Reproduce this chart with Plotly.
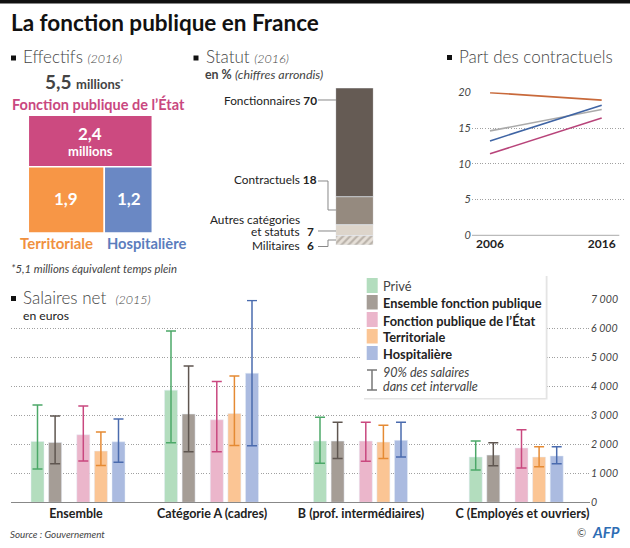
import plotly.graph_objects as go

W, H = 630, 548
FONT = "Lato"

# ---- data
effectifs_labels = ["Fonction publique", "État", "Autres", "Territoriale", "Hospitalière"]
effectifs_parents = ["", "Fonction publique", "Fonction publique", "Autres", "Autres"]
effectifs_values = [5.5, 2.4, 3.1, 1.9, 1.2]

statut_labels = ["Fonctionnaires", "Contractuels", "Autres catégories et statuts", "Militaires"]
statut_values = [70, 18, 7, 6]

years = [2006, 2016]
part_territoriale = [19.95, 18.9]
part_ensemble = [14.6, 17.6]
part_hospitaliere = [13.2, 18.2]
part_etat = [11.4, 16.4]

groups = ["Ensemble", "Catégorie A (cadres)", "B (prof. intermédiaires)", "C (Employés et ouvriers)"]
series = ["Privé", "Ensemble fonction publique", "Fonction publique de l’État", "Territoriale", "Hospitalière"]
salaires_moy = [
    [2100, 3875, 2115, 1565],
    [2070, 3050, 2115, 1630],
    [2335, 2850, 2115, 1875],
    [1770, 3070, 2080, 1565],
    [2090, 4460, 2140, 1600],
]
salaires_haut = [
    [3360, 5915, 2940, 2115],
    [2980, 4705, 2770, 2057],
    [3325, 4175, 2770, 2505],
    [2430, 4360, 2665, 1920],
    [2875, 6970, 2770, 1920],
]
salaires_bas = [
    [1150, 2060, 1345, 1115],
    [1335, 1750, 1517, 1265],
    [1425, 1750, 1415, 1185],
    [1275, 1965, 1517, 1230],
    [1380, 1955, 1565, 1335],
]
y_ticks = [0, 1000, 2000, 3000, 4000, 5000, 6000, 7000]
y_ticklabels = ["0", "1 000", "2 000", "3 000", "4 000", "5 000", "6 000", "7 000"]
part_ticks = [0, 5, 10, 15, 20]

# ---- styles and layout
bar_colors = ["#B3DDBE", "#A59D96", "#EBB6CB", "#FBC594", "#ABBBE0"]
err_colors = ["#4CA868", "#5F5650", "#C9487F", "#E58A33", "#4A6BAE"]
group_start = [37.5, 171, 320, 475.7]
series_offset = [0, 17.6, 45.8, 63.4, 81]
group_label_x = [76, 212, 361, 522.5]
stack_colors = ["#655B54", "#958A7F", "#DDD5CB", "#DDD5CB"]
TXT = "#222222"
HEAD = "#444444"
MAG, ORA, BLU = "#C9487F", "#F0913F", "#5B7DBD"


def px(x):
    return x / W


def py(y):
    return 1 - y / H


fig = go.Figure()

# treemap
fig.add_trace(go.Treemap(
    labels=effectifs_labels, parents=effectifs_parents, values=effectifs_values,
    branchvalues="total", sort=False,
    domain=dict(x=[px(28.3), px(152.3)], y=[py(233), py(115.3)]),
    tiling=dict(packing="dice-slice", pad=0),
    pathbar=dict(visible=False),
    textinfo="none", hoverinfo="label+value",
    marker=dict(colors=["#FFFFFF", "#CC4A80", "#FFFFFF", "#F79646", "#6A88C4"],
                line=dict(color="#FFFFFF", width=1.5),
                pad=dict(t=0, l=0, r=0, b=0)),
))

# stacked status bar, Fonctionnaires on top
base = sum(statut_values)
for i, (lab, val) in enumerate(zip(statut_labels, statut_values)):
    marker = dict(color=stack_colors[i])
    if i == 3:
        marker = dict(color="#E6E0D8", pattern=dict(shape="/", fgcolor="#8F877D", bgcolor="#E6E0D8", size=5, solidity=0.45))
    base -= val
    fig.add_trace(go.Bar(x=[0], y=[val], base=[base], name=lab, width=1, marker=marker,
                         xaxis="x3", yaxis="y3", showlegend=False))

# lines
for vals, col, nm in [(part_territoriale, "#C8693A", "Territoriale"),
                      (part_ensemble, "#AAAAAA", "Ensemble"),
                      (part_hospitaliere, "#3F64A4", "Hospitalière"),
                      (part_etat, "#B8447A", "État")]:
    fig.add_trace(go.Scatter(x=years, y=vals, mode="lines", name=nm, showlegend=False,
                             line=dict(color=col, width=1.6), xaxis="x2", yaxis="y2"))

# salary bars
for s, name in enumerate(series):
    xs = [g + series_offset[s] for g in group_start]
    fig.add_trace(go.Bar(
        x=xs, y=salaires_moy[s], name=name, width=13, showlegend=False,
        marker=dict(color=bar_colors[s]),
        error_y=dict(type="data", symmetric=False,
                     array=[h - m for h, m in zip(salaires_haut[s], salaires_moy[s])],
                     arrayminus=[m - b for m, b in zip(salaires_moy[s], salaires_bas[s])],
                     color=err_colors[s], thickness=1.5, width=5),
    ))

shapes = []


def rect(x0, y0, x1, y1, color, line=None):
    shapes.append(dict(type="rect", xref="paper", yref="paper", x0=px(x0), x1=px(x1), y0=py(y0), y1=py(y1),
                       fillcolor=color, line=dict(width=0) if not line else line))


def seg(pts, color="#888888", width=1):
    path = "M" + " L".join(f"{px(a):.5f},{py(b):.5f}" for a, b in pts)
    shapes.append(dict(type="path", xref="paper", yref="paper", path=path, line=dict(color=color, width=width)))


rect(0, 0, 630, 3.5, "#111111")
rect(5, 292, 155, 307, "#FFFFFF")  # heading clears the top grid line
for x0, y0 in [(11, 55.5), (193.5, 55.5), (447, 55), (11, 296)]:
    rect(x0, y0, x0 + 5, y0 + 5, "#111111")

# leader lines
seg([(318, 100), (336, 100)])
seg([(318, 181), (328, 181), (328, 210), (336, 210)])
seg([(318, 231), (336, 231)])
seg([(318, 246.5), (328, 246.5), (328, 240), (336, 240)])

# part axis base
seg([(472, 235.3), (619.3, 235.3)], "#AAAAAA", 1)

# legend box
rect(364, 276, 547.5, 399.5, "#E4E4E4")
rect(362, 274, 545.7, 398, "#FFFFFF")
swatch_y = [(278, 293), (295, 309.5), (312, 327), (329, 343.5), (346, 360)]
for c, (a, b) in zip(bar_colors, swatch_y):
    rect(366.7, a, 377.7, b, c)
seg([(372, 370), (372, 390)], "#777777", 1.5)
seg([(367, 370), (377, 370)], "#777777", 1.5)
seg([(367, 390), (377, 390)], "#777777", 1.5)

ann = []


def text(x, y, s, size, color=TXT, anchor="left", **kw):
    ann.append(dict(xref="paper", yref="paper", x=px(x), y=py(y), text=s, showarrow=False,
                    xanchor=anchor, yanchor="middle", align=anchor,
                    font=dict(family=FONT, size=size, color=color, **kw),
                    borderpad=0, borderwidth=0))


def sz(s, size):
    return f'<span style="font-size:{size}px">{s}</span>'


text(10.5, 22, "<b>La fonction publique en France</b>", 22.5, "#111111")
text(23, 57, "Effectifs " + sz("<i>(2016)</i>", 12.5), 17, HEAD, weight=300)
text(206, 57, "Statut " + sz("<i>(2016)</i>", 12.5), 17, HEAD, weight=300)
text(459, 57, "Part des contractuels", 17, HEAD, weight=300)
text(23, 298, "Salaires net  " + sz("<i>(2015)</i>", 12.5), 17, HEAD, weight=300)

text(84, 81, "<b>5,5 </b>" + sz("<b>millions</b>", 13) + sz("<sup>*</sup>", 10), 19, HEAD, "center")
text(98, 104, "<b>Fonction publique de l’État</b>", 14.5, MAG, "center")
text(90, 133, "<b>2,4</b>", 17, "#FFFFFF", "center")
text(90, 151, "<b>millions</b>", 13, "#FFFFFF", "center")
text(66, 199, "<b>1,9</b>", 17, "#FFFFFF", "center")
text(129, 199, "<b>1,2</b>", 17, "#FFFFFF", "center")
text(56, 243, "<b>Territoriale</b>", 15, ORA, "center")
text(146, 243, "<b>Hospitalière</b>", 14.7, BLU, "center")
text(11, 268, "<i>*5,1 millions équivalent temps plein</i>", 11.3, HEAD)

text(205, 75, "<b>en %</b> <i>(chiffres arrondis)</i>", 12.4, HEAD)
text(317, 100, "Fonctionnaires <b>70</b>", 11.8, TXT, "right")
text(317, 180, "Contractuels <b>18</b>", 11.8, TXT, "right")
text(299.5, 219, "Autres catégories", 11.8, TXT, "right")
text(299.5, 231, "et statuts", 11.8, TXT, "right")
text(314, 231, "<b>7</b>", 11.8, TXT, "right")
text(299.5, 246, "Militaires", 11.8, TXT, "right")
text(314, 246, "<b>6</b>", 11.8, TXT, "right")

text(23, 315, "en euros", 12.2, TXT)
text(10, 534, "<i>Source : Gouvernement</i>", 9.8, HEAD)

for name, yy, w in zip(series, [286, 303, 320.5, 337, 354], [False, True, True, True, True]):
    text(383, yy, f"<b>{name}</b>" if w else name, 12.8, TXT if w else HEAD)
text(383, 372.5, "<i>90% des salaires</i>", 12.6, HEAD)
text(383, 386.5, "<i>dans cet intervalle</i>", 12.6, HEAD)

text(577, 532, "©", 11, "#555555")
text(620, 532, "<b><i>AFP</i></b>", 15, "#2E6DB4", "right")

grid = "#A0A0A0"
dots = "1px,1.6px"
fig.update_layout(
    width=W, height=H, autosize=False, margin=dict(l=0, r=0, t=0, b=0),
    paper_bgcolor="white", plot_bgcolor="rgba(0,0,0,0)",
    barmode="overlay", showlegend=False, font=dict(family=FONT),
    shapes=shapes, annotations=ann,
    # salary chart
    xaxis=dict(domain=[px(11), px(590)], range=[11, 590], tickvals=group_label_x, ticktext=groups,
               tickfont=dict(family=FONT, size=12.5, color=TXT, weight="bold"), ticklen=0,
               showgrid=False, zeroline=False, showline=True, linecolor="#888888", linewidth=1,
               fixedrange=True, automargin=False),
    yaxis=dict(domain=[py(502.3), py(299.7)], range=[0, 7000], side="right", tickvals=y_ticks,
               ticktext=y_ticklabels, tickfont=dict(family=FONT, size=10.6, color=HEAD, style="italic"),
               showgrid=True, gridcolor=grid, griddash=dots, gridwidth=1, zeroline=False, ticklen=0,
               ticks="", fixedrange=True, automargin=False),
    # line chart
    xaxis2=dict(domain=[px(472), px(624)], range=[2006 - 18 / 11.17, 2006 + 134 / 11.17], anchor="y2",
                tickvals=years, tickfont=dict(family=FONT, size=12, color=TXT, weight="bold"),
                showgrid=False, zeroline=False, showline=False, ticks="", fixedrange=True, automargin=False),
    yaxis2=dict(domain=[py(235.3), py(92.3)], range=[0, 20], anchor="x2", tickvals=part_ticks,
                tickfont=dict(family=FONT, size=11, color=HEAD, style="italic"),
                showgrid=True, gridcolor=grid, griddash=dots, gridwidth=1, zeroline=False,
                ticks="", ticklen=0, fixedrange=True, automargin=False),
    # status stack
    xaxis3=dict(domain=[px(335.7), px(373.3)], range=[-0.5, 0.5], anchor="y3", visible=False, fixedrange=True, automargin=False),
    yaxis3=dict(domain=[py(245), py(88)], range=[0, sum(statut_values)], anchor="x3", visible=False, fixedrange=True, automargin=False),
)

fig.write_html("out.html", config=dict(displayModeBar=False),
               post_script="document.body.style.margin='0';document.documentElement.style.overflow='hidden';")
